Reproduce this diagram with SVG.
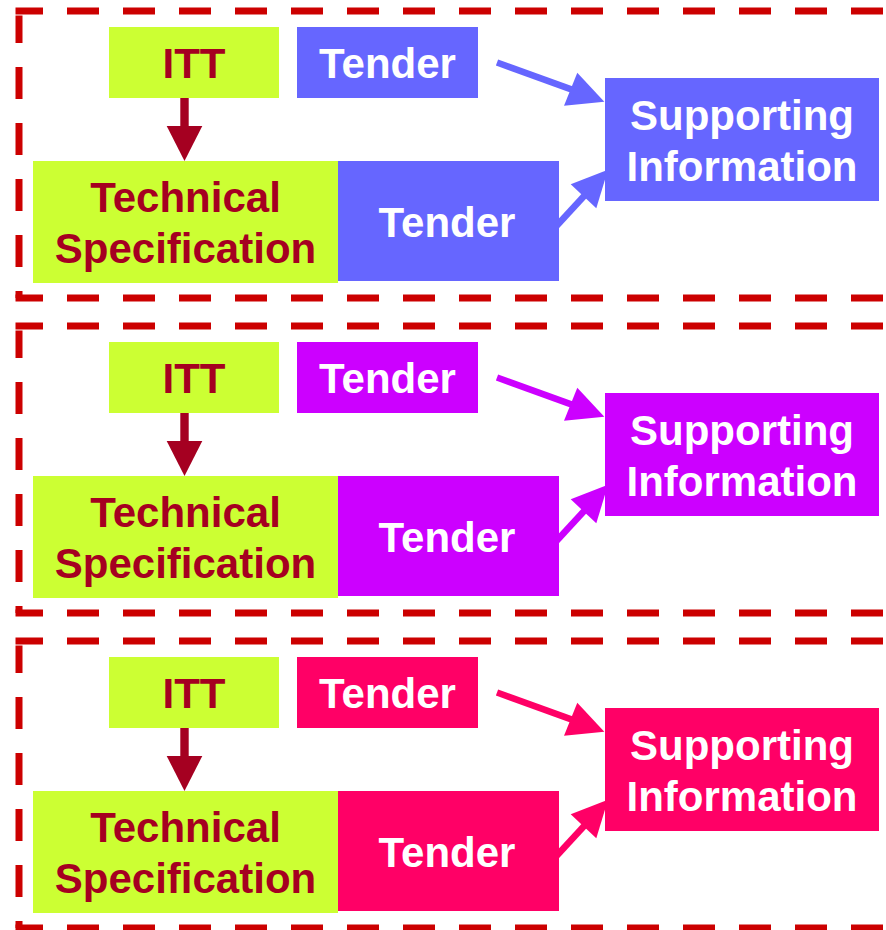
<svg xmlns="http://www.w3.org/2000/svg" width="886" height="930" viewBox="0 0 886 930">
  <style>
    .frame { fill: none; stroke: #CC0000; stroke-width: 7; stroke-dasharray: 32 24; stroke-dashoffset: 4.5; }
    .green { fill: #CCFF33; }
    .gtxt { font-family: "Liberation Sans", Arial, sans-serif; font-weight: bold; font-size: 42px; fill: #A50021; text-anchor: middle; }
    .wtxt { font-family: "Liberation Sans", Arial, sans-serif; font-weight: bold; font-size: 42px; fill: #FFFFFF; text-anchor: middle; }
    .down { fill: #A50021; }
    .p1 { fill: #6666FF; } .s1 { stroke: #6666FF; }
    .p2 { fill: #CC00FF; } .s2 { stroke: #CC00FF; }
    .p3 { fill: #FF0066; } .s3 { stroke: #FF0066; }
    .shaft { fill: none; stroke-width: 6.6; }
  </style>
  <defs>
    <g id="frame">
      <path class="frame" d="M15.5,11 H900"/>
      <path class="frame" d="M19,15.5 V298"/>
      <path class="frame" d="M15.5,298 H900"/>
    </g>
  </defs>

  <!-- Panel 1 -->
  <g id="panel1">
    <use href="#frame"/>
    <g id="connectors1">
      <rect class="down" x="180.3" y="97" width="8.4" height="30"/>
      <polygon class="down" points="166.7,126 202.3,126 184.5,161"/>
      <line class="shaft s1" x1="497" y1="62.5" x2="572" y2="89.7"/>
      <polygon class="p1" points="577.3,72.7 604.3,101.7 564,105.7"/>
      <line class="shaft s1" x1="550" y1="233" x2="585" y2="195"/>
      <polygon class="p1" points="570.7,184.3 608,169.8 596.3,208.3"/>
    </g>
    <g id="itt1"><rect class="green" x="109" y="27" width="170" height="71"/><text class="gtxt" x="194" y="78">ITT</text></g>
    <g id="tenderTop1"><rect class="p1" x="297" y="27" width="181" height="71"/><text class="wtxt" x="387.5" y="78">Tender</text></g>
    <g id="techSpec1"><rect class="green" x="33" y="161" width="305" height="122"/><text class="gtxt" x="185.5" y="212">Technical</text><text class="gtxt" x="185.5" y="263">Specification</text></g>
    <g id="tenderBottom1"><rect class="p1" x="338" y="161" width="221" height="120"/><text class="wtxt" x="447" y="237">Tender</text></g>
    <g id="support1"><rect class="p1" x="605" y="78" width="274" height="123"/><text class="wtxt" x="742" y="129.5">Supporting</text><text class="wtxt" x="742" y="181">Information</text></g>
  </g>

  <!-- Panel 2 -->
  <g id="panel2" transform="translate(0,315)">
    <use href="#frame"/>
    <g id="connectors2">
      <rect class="down" x="180.3" y="97" width="8.4" height="30"/>
      <polygon class="down" points="166.7,126 202.3,126 184.5,161"/>
      <line class="shaft s2" x1="497" y1="62.5" x2="572" y2="89.7"/>
      <polygon class="p2" points="577.3,72.7 604.3,101.7 564,105.7"/>
      <line class="shaft s2" x1="550" y1="233" x2="585" y2="195"/>
      <polygon class="p2" points="570.7,184.3 608,169.8 596.3,208.3"/>
    </g>
    <g id="itt2"><rect class="green" x="109" y="27" width="170" height="71"/><text class="gtxt" x="194" y="78">ITT</text></g>
    <g id="tenderTop2"><rect class="p2" x="297" y="27" width="181" height="71"/><text class="wtxt" x="387.5" y="78">Tender</text></g>
    <g id="techSpec2"><rect class="green" x="33" y="161" width="305" height="122"/><text class="gtxt" x="185.5" y="212">Technical</text><text class="gtxt" x="185.5" y="263">Specification</text></g>
    <g id="tenderBottom2"><rect class="p2" x="338" y="161" width="221" height="120"/><text class="wtxt" x="447" y="237">Tender</text></g>
    <g id="support2"><rect class="p2" x="605" y="78" width="274" height="123"/><text class="wtxt" x="742" y="129.5">Supporting</text><text class="wtxt" x="742" y="181">Information</text></g>
  </g>

  <!-- Panel 3 -->
  <g id="panel3" transform="translate(0,630)">
    <use href="#frame"/>
    <g id="connectors3">
      <rect class="down" x="180.3" y="97" width="8.4" height="30"/>
      <polygon class="down" points="166.7,126 202.3,126 184.5,161"/>
      <line class="shaft s3" x1="497" y1="62.5" x2="572" y2="89.7"/>
      <polygon class="p3" points="577.3,72.7 604.3,101.7 564,105.7"/>
      <line class="shaft s3" x1="550" y1="233" x2="585" y2="195"/>
      <polygon class="p3" points="570.7,184.3 608,169.8 596.3,208.3"/>
    </g>
    <g id="itt3"><rect class="green" x="109" y="27" width="170" height="71"/><text class="gtxt" x="194" y="78">ITT</text></g>
    <g id="tenderTop3"><rect class="p3" x="297" y="27" width="181" height="71"/><text class="wtxt" x="387.5" y="78">Tender</text></g>
    <g id="techSpec3"><rect class="green" x="33" y="161" width="305" height="122"/><text class="gtxt" x="185.5" y="212">Technical</text><text class="gtxt" x="185.5" y="263">Specification</text></g>
    <g id="tenderBottom3"><rect class="p3" x="338" y="161" width="221" height="120"/><text class="wtxt" x="447" y="237">Tender</text></g>
    <g id="support3"><rect class="p3" x="605" y="78" width="274" height="123"/><text class="wtxt" x="742" y="129.5">Supporting</text><text class="wtxt" x="742" y="181">Information</text></g>
  </g>
</svg>
